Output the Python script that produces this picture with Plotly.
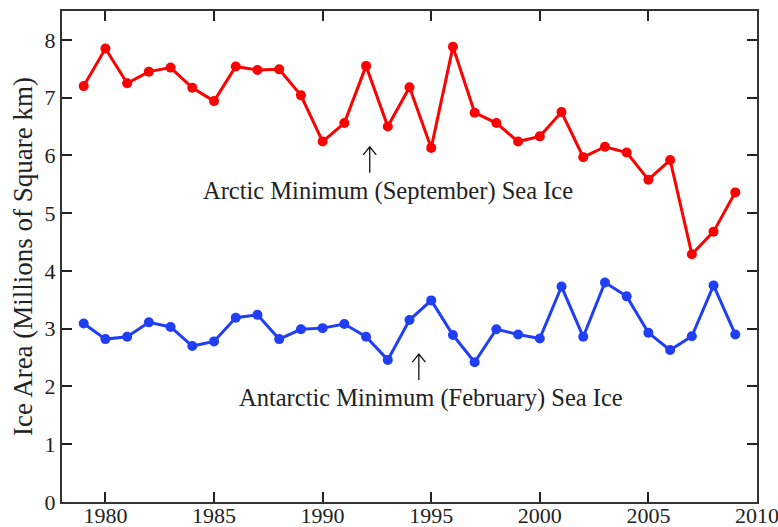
import plotly.graph_objects as go

years = list(range(1979, 2010))

arctic_sept = [7.20, 7.85, 7.25, 7.45, 7.52, 7.17, 6.94, 7.54, 7.48, 7.49,
               7.04, 6.24, 6.56, 7.55, 6.50, 7.18, 6.13, 7.88, 6.74, 6.56,
               6.24, 6.33, 6.75, 5.97, 6.15, 6.05, 5.58, 5.92, 4.29, 4.68,
               5.36]

antarctic_feb = [3.09, 2.82, 2.86, 3.11, 3.03, 2.70, 2.78, 3.19, 3.24, 2.82,
                 2.99, 3.01, 3.08, 2.86, 2.46, 3.15, 3.49, 2.89, 2.42, 2.99,
                 2.90, 2.83, 3.73, 2.86, 3.80, 3.56, 2.93, 2.63, 2.87, 3.75,
                 2.90]

x_ticks = [1980, 1985, 1990, 1995, 2000, 2005, 2010]
y_ticks = [0, 1, 2, 3, 4, 5, 6, 7, 8]

SERIF = "Liberation Serif"

fig = go.Figure()
fig.add_trace(go.Scatter(
    x=years, y=arctic_sept, mode="lines+markers",
    line=dict(color="#ff0000", width=3),
    marker=dict(color="#ff0000", size=10),
    name="Arctic", showlegend=False,
))
fig.add_trace(go.Scatter(
    x=years, y=antarctic_feb, mode="lines+markers",
    line=dict(color="#1f3ef5", width=3),
    marker=dict(color="#1f3ef5", size=10),
    name="Antarctic", showlegend=False,
))

# Series labels with small open arrows pointing up at each curve
labels = [
    dict(text="Arctic Minimum (September) Sea Ice", x=1993.0, y=5.38,
         ax=1992.17, ay_top=6.15, ay_bot=5.70),
    dict(text="Antarctic Minimum (February) Sea Ice", x=1995.0, y=1.80,
         ax=1994.43, ay_top=2.56, ay_bot=2.11),
]
head_dx, head_dy = 0.30, 0.14
for lb in labels:
    fig.add_annotation(x=lb["x"], y=lb["y"], text=lb["text"], showarrow=False,
                       font=dict(family=SERIF, size=24.5, color="#222222"),
                       xanchor="center", yanchor="middle")
    x0, yt, yb = lb["ax"], lb["ay_top"], lb["ay_bot"]
    path = (f"M {x0},{yb} L {x0},{yt} "
            f"M {x0 - head_dx},{yt - head_dy} L {x0},{yt} L {x0 + head_dx},{yt - head_dy}")
    fig.add_shape(type="path", path=path, xref="x", yref="y",
                  line=dict(color="#111111", width=1.3))

axis_common = dict(
    showline=True, linecolor="#333333", linewidth=2, mirror="ticks",
    ticks="inside", ticklen=10, tickwidth=1.5, tickcolor="#222222",
    showgrid=False, zeroline=False, automargin=False,
    ticklabeloverflow="allow",
    tickfont=dict(family=SERIF, size=22, color="#222222"),
)

fig.update_xaxes(range=[1978, 2010.0001], tickvals=x_ticks,
                 ticklabelstandoff=-7, **axis_common)
fig.update_yaxes(range=[0, 8.5], tickvals=y_ticks,
                 title=dict(text="Ice Area (Millions of Square km)",
                            font=dict(family=SERIF, size=27, color="#222222"),
                            standoff=4),
                 **axis_common)

fig.update_layout(
    width=778, height=527,
    margin=dict(l=62, r=21, t=11, b=25),
    paper_bgcolor="white", plot_bgcolor="white",
    font=dict(family=SERIF),
)

fig.write_html("out.html")
